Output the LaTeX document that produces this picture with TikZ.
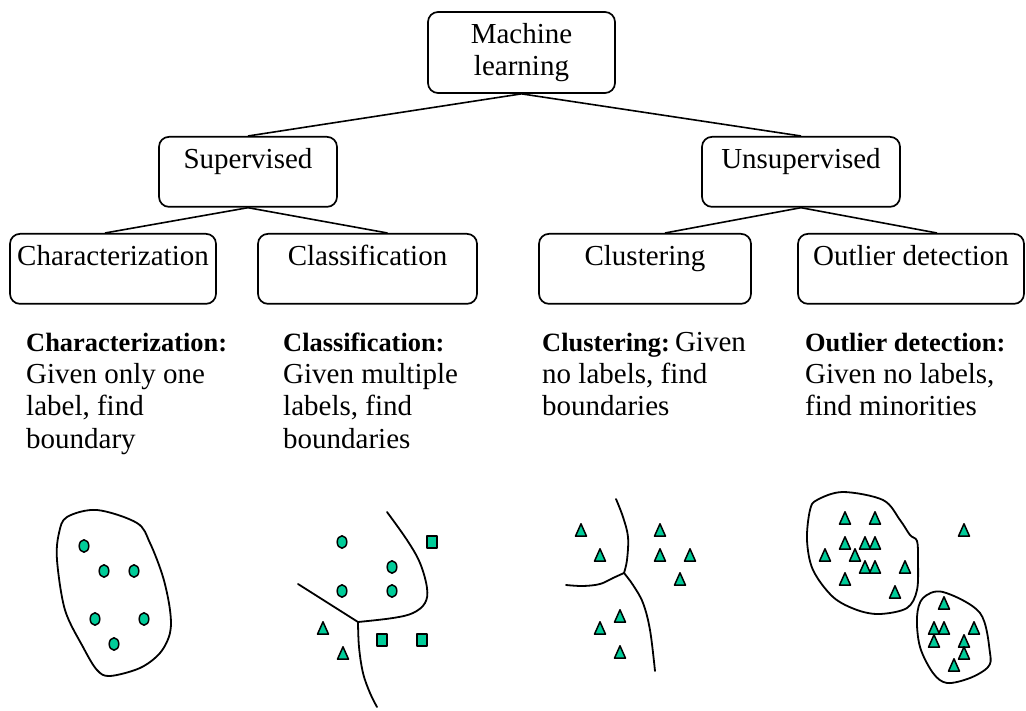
\documentclass[tikz,border=0pt]{standalone}
\usepackage{fontspec}
\setmainfont{Liberation Serif}
\usetikzlibrary{calc}
\definecolor{dotfill}{HTML}{00CC99}
\newcommand\txt{\fontsize{29}{32}\selectfont}
\newcommand\hd[1]{{\fontsize{26.4}{32}\selectfont\bfseries #1}}
% markers: oval, square, triangle centred on (x,y)
\newcommand\mkcirc[2]{\path[mk] (#1,#2) ellipse [x radius=4.8pt, y radius=6.2pt];}
\newcommand\mksq[2]{\path[mk] (#1,#2) +(-5,-6.2) rectangle +(5,6.2);}
\newcommand\mktri[2]{\path[mk] (#1,#2) +(-5.5,6.2) -- +(5.5,6.2) -- +(0,-6.2) -- cycle;}
\begin{document}
\begin{tikzpicture}[x=1pt,y=-1pt,
  frame/.style={draw, rounded corners=10pt, line width=1.7pt, inner sep=0pt, font=\txt},
  box/.style={frame, anchor=north, text height=32pt, text depth=38pt},
  link/.style={line width=1.6pt},
  desc/.style={anchor=base west, inner sep=0pt, font=\txt},
  curve/.style={line width=1.8pt, line cap=round, line join=round},
  mk/.style={fill=dotfill, draw=black, line width=1.5pt, line join=round}]
\useasboundingbox (0,0) rectangle (1026,711);

% tree of categories
\node[frame, minimum width=187pt, minimum height=81pt, align=center] (ml) at (521.5,52.5) {Machine\\learning};
\node[box, minimum width=178pt] (sup) at (248,136) {Supervised};
\node[box, minimum width=198pt] (uns) at (801,136) {Unsupervised};
\node[box, minimum width=206pt] (chr) at (113,233) {Characterization};
\node[box, minimum width=219pt] (cls) at (367.5,233) {Classification};
\node[box, minimum width=212pt] (clu) at (645,233) {Clustering};
\node[box, minimum width=226pt] (out) at (911,233) {Outlier detection};

\draw[link] (ml.south) -- (sup.north);
\draw[link] (ml.south) -- (uns.north);
\draw[link] (sup.south) -- ($(chr.north)+(-8,0)$);
\draw[link] (sup.south) -- ($(cls.north)+(20,0)$);
\draw[link] (uns.south) -- ($(clu.north)+(20,0)$);
\draw[link] (uns.south) -- ($(out.north)+(26,0)$);

% descriptions
\node[desc] (d1a) at (26,352) {\hd{Characterization:}};
\node[desc] (d1b) at (26,384) {Given only one};
\node[desc] (d1c) at (26,416) {label, find};
\node[desc] (d1d) at (26,448) {boundary};

\node[desc] (d2a) at (283,352) {\hd{Classification:}};
\node[desc] (d2b) at (283,384) {Given multiple};
\node[desc] (d2c) at (283,416) {labels, find};
\node[desc] (d2d) at (283,448) {boundaries};

\node[desc] (d3a) at (542,352) {\hd{Clustering:}\hspace{0.18em}Given};
\node[desc] (d3b) at (542,384) {no labels, find};
\node[desc] (d3c) at (542,416) {boundaries};

\node[desc] (d4a) at (805,352) {\hd{Outlier detection:}};
\node[desc] (d4b) at (805,384) {Given no labels,};
\node[desc] (d4c) at (805,416) {find minorities};

% characterization: one class inside a boundary
\draw[curve] plot[smooth cycle, tension=0.55] coordinates {(97,510) (137,523) (150,543) (163,577) (170,610) (170,633) (160,653) (140,668) (110,676) (97,670) (83,647) (65,610) (57,560) (59,533) (67,517)};
\foreach \x/\y in {84/546, 104/571, 134/571, 95/619, 144/619, 114/644} {\mkcirc{\x}{\y}}

% classification: three classes separated by boundaries
\draw[curve] (298,584) -- (358,622);
\draw[curve] plot[smooth, tension=0.6] coordinates {(358,622) (393,618) (413,613) (425,603) (427,588) (420,563) (407,540) (387,512)};
\draw[curve] plot[smooth, tension=0.6] coordinates {(358,622) (359,647) (363,673) (370,693) (377,707)};
\foreach \x/\y in {342/542, 392/567, 342/591, 392/591} {\mkcirc{\x}{\y}}
\foreach \x/\y in {432/542, 382/640, 422/640} {\mksq{\x}{\y}}
\foreach \x/\y in {323/628, 343/653} {\mktri{\x}{\y}}

% clustering: unlabelled points split into groups
\draw[curve] plot[smooth, tension=0.6] coordinates {(616,499) (623,517) (628,537) (627,560) (624,573)};
\draw[curve] plot[smooth, tension=0.6] coordinates {(624,573) (613,578) (600,584) (583,586) (566,585)};
\draw[curve] plot[smooth, tension=0.6] coordinates {(624,573) (633,585) (643,603) (650,630) (655,671)};
\foreach \x/\y in {581/530, 600/555, 660/530, 660/555, 690/555, 680/579, 620/616, 600/628, 620/652} {\mktri{\x}{\y}}

% outlier detection: two groups and one isolated point
\draw[curve] plot[smooth cycle, tension=0.55] coordinates {(817,500) (843,492) (883,500) (900,520) (910,535) (917,541) (918,560) (917,590) (907,608) (880,614) (857,610) (833,597) (813,570) (807,540) (810,510)};
\draw[curve] plot[smooth cycle, tension=0.55] coordinates {(943,592) (980,613) (990,653) (988,667) (970,678) (947,683) (933,673) (920,647) (917,617) (923,598)};
\foreach \x/\y in {845/518, 875/518, 845/543, 865/543, 875/543, 825/555, 855/555, 865/567, 875/567, 905/567, 845/579, 895/592, 964/530, 944/603, 934/628, 944/628, 974/628, 934/641, 964/641, 964/653, 954/665} {\mktri{\x}{\y}}
\end{tikzpicture}
\end{document}
